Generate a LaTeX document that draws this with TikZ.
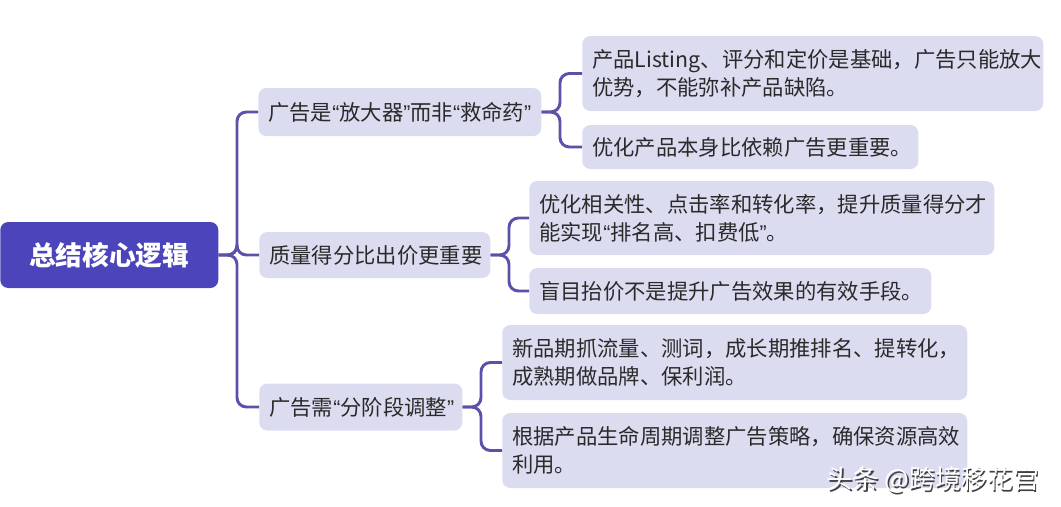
\documentclass[tikz,border=0pt]{standalone}
\usepackage{fontspec}
\setmainfont{Noto Sans CJK SC}
\newfontfamily\quotefont{Liberation Sans}
\newcommand\quoted[1]{{\quotefont “}#1{\quotefont ”}}
\usepackage{tikz}
\usetikzlibrary{calc,positioning}

\definecolor{corefill}{HTML}{4B44BA}
\definecolor{boxfill}{HTML}{DCDCF1}
\definecolor{linkline}{HTML}{5A51AB}
\definecolor{inktext}{HTML}{2A2A2A}

\begin{document}
\begin{tikzpicture}[
    x=0.75pt, y=-0.75pt,
    corebox/.style={fill=corefill, rounded corners=6pt, text=white, anchor=west, align=center, inner sep=0pt, font=\fontsize{20}{24}\selectfont\bfseries},
    topicbox/.style={fill=boxfill, rounded corners=6pt, text=inktext, anchor=west, align=left, inner xsep=7.5pt, inner ysep=0pt, font=\fontsize{16}{21}\selectfont},
    pointbox/.style={topicbox},
    link/.style={draw=linkline, line width=2.2pt, rounded corners=7pt},
    watermark/.style={anchor=west, font=\fontsize{19.5}{22}\selectfont}
]
\useasboundingbox (0,0) rectangle (1061,507);

% Root
\node[corebox, minimum width=163.5pt, minimum height=49.5pt] (core) at (0,255) {总结核心逻辑};

% Level-one topics
\node[topicbox, text width=197.25pt, minimum height=36pt] (amplifier) at (258,112) {广告是\quoted{放大器}而非\quoted{救命药}};
\node[topicbox, text width=158.25pt, minimum height=34.5pt] (quality) at (259,255) {质量得分比出价更重要};
\node[topicbox, text width=137.25pt, minimum height=35.25pt] (stage) at (259,407) {广告需\quoted{分阶段调整}};

% Level-two points
\node[pointbox, text width=330.75pt, minimum height=56.25pt] (ampA) at (582,73.5) {产品Listing、评分和定价是基础，广告只能放大\\优势，不能弥补产品缺陷。};
\node[pointbox, text width=237pt, minimum height=33pt] (ampB) at (582,147) {优化产品本身比依赖广告更重要。};
\node[pointbox, text width=333.75pt, minimum height=55.5pt] (qualA) at (529,218) {优化相关性、点击率和转化率，提升质量得分才\\能实现\quoted{排名高、扣费低}。};
\node[pointbox, text width=286.5pt, minimum height=34.5pt] (qualB) at (529,291) {盲目抬价不是提升广告效果的有效手段。};
\node[pointbox, text width=333.75pt, minimum height=56.25pt] (stageA) at (502,362.5) {新品期抓流量、测词，成长期推排名、提转化，\\成熟期做品牌、保利润。};
\node[pointbox, text width=333.75pt, minimum height=56.25pt] (stageB) at (502,450.5) {根据产品生命周期调整广告策略，确保资源高效\\利用。};

% Branch points
\coordinate (trunk) at (237,255);
\coordinate (forkA) at (560,112);
\coordinate (forkQ) at (509,255);
\coordinate (forkS) at (481,407);

% Connectors
\foreach \kid in {amplifier,quality,stage}
    \draw[link] (core.east) -- (trunk) |- (\kid.west);
\foreach \kid in {ampA,ampB}
    \draw[link] (amplifier.east) -- (forkA) |- (\kid.west);
\foreach \kid in {qualA,qualB}
    \draw[link] (quality.east) -- (forkQ) |- (\kid.west);
\foreach \kid in {stageA,stageB}
    \draw[link] (stage.east) -- (forkS) |- (\kid.west);

% Watermark
\node[watermark, text=black!75] (markshade) at (823.5,481.5) {头条 @跨境移花宫};
\node[watermark, text=white] (marktext) at (822,480) {头条 @跨境移花宫};

\end{tikzpicture}
\end{document}
